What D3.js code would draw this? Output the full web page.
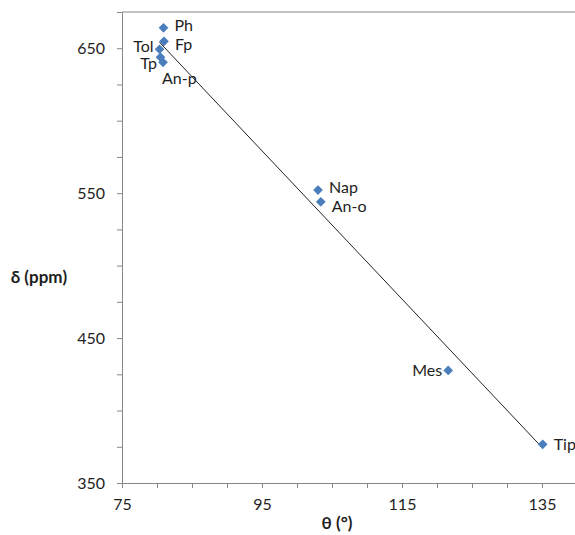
<!DOCTYPE html>
<html>
<head>
<meta charset="utf-8">
<script src="https://cdn.jsdelivr.net/npm/d3@7"></script>
<style>
  body { margin: 0; background: #fff; }
  svg text { font-family: Lato, "Open Sans", sans-serif; fill: #1e1e1e; }
</style>
</head>
<body>
<script>
// data
var labels = ["Ph", "Fp", "Tol", "An-p", "Tp", "Nap", "An-o", "Mes", "Tip"];
var theta = [80.93, 81.0, 80.36, 80.5, 80.86, 103.0, 103.4, 121.6, 135.1];
var delta = [664.1, 654.8, 649.3, 643.8, 640.3, 552.1, 544.0, 427.7, 376.7];
var labelSide = ["rightHigh", "rightLow", "leftHigh", "below", "leftLow", "rightTop", "rightBottom", "left", "right"];
var xTicks = [75, 95, 115, 135];
var yTicks = [350, 450, 550, 650];

var w = 575, h = 535;
// note: "top" is reserved on window, so use plot* names
var plotLeft = 122, plotRight = 577, plotTop = 12, plotBottom = 483;

var svg = d3.select("body").append("svg")
    .attr("width", w)
    .attr("height", h);

var xScale = d3.scaleLinear().domain([75, 140]).range([plotLeft, plotRight]);
var yScale = d3.scaleLinear().domain([350, 675]).range([plotBottom, plotTop]);

var axisColor = "#868686";

// minor ticks
var xMinor = d3.range(75, 141, 5).filter(function(v){ return xTicks.indexOf(v) < 0; });
var yMinor = d3.range(350, 676, 25).filter(function(v){ return yTicks.indexOf(v) < 0; });

svg.append("g")
    .attr("transform", "translate(0," + plotBottom + ")")
    .call(d3.axisBottom(xScale).tickValues(xMinor).tickSize(5).tickFormat(""))
    .call(function(g){ g.select(".domain").remove(); g.selectAll("line").attr("stroke", axisColor); });

svg.append("g")
    .attr("transform", "translate(" + plotLeft + ",0)")
    .call(d3.axisLeft(yScale).tickValues(yMinor).tickSize(5).tickFormat(""))
    .call(function(g){ g.select(".domain").remove(); g.selectAll("line").attr("stroke", axisColor); });

// major axes
var xAxis = d3.axisBottom(xScale).tickValues(xTicks).tickSize(5).tickSizeOuter(0).tickPadding(11);
var yAxis = d3.axisLeft(yScale).tickValues(yTicks).tickSize(5).tickSizeOuter(0).tickPadding(12);

svg.append("g")
    .attr("transform", "translate(0," + plotBottom + ")")
    .call(xAxis)
    .call(function(g){
        g.selectAll("path,line").attr("stroke", axisColor);
        g.selectAll("text").attr("font-size", 16).attr("font-family", "Lato, sans-serif").attr("fill", "#1e1e1e");
    });

svg.append("g")
    .attr("transform", "translate(" + plotLeft + ",0)")
    .call(yAxis)
    .call(function(g){
        g.selectAll("path,line").attr("stroke", axisColor);
        g.selectAll("text").attr("font-size", 16).attr("font-family", "Lato, sans-serif").attr("fill", "#1e1e1e");
    });

// top border of plot area
svg.append("line")
    .attr("x1", plotLeft).attr("x2", w)
    .attr("y1", plotTop).attr("y2", plotTop)
    .attr("stroke", axisColor);

// least squares trend line
var mx = d3.mean(theta), my = d3.mean(delta);
var sxy = d3.sum(theta, function(t, i){ return (t - mx) * (delta[i] - my); });
var sxx = d3.sum(theta, function(t){ return (t - mx) * (t - mx); });
var slope = sxy / sxx, icpt = my - slope * mx;
var xExt = d3.extent(theta);

svg.append("line")
    .attr("x1", xScale(xExt[0])).attr("y1", yScale(icpt + slope * xExt[0]))
    .attr("x2", xScale(xExt[1])).attr("y2", yScale(icpt + slope * xExt[1]))
    .attr("stroke", "#222")
    .attr("stroke-width", 1);

// points
var points = labels.map(function(l, i){
    return { label: l, x: theta[i], y: delta[i], side: labelSide[i] };
});

svg.selectAll("path.pt")
    .data(points)
    .enter()
    .append("path")
    .attr("class", "pt")
    .attr("d", d3.symbol().type(d3.symbolDiamond2).size(60))
    .attr("transform", function(d){ return "translate(" + xScale(d.x) + "," + yScale(d.y) + ")"; })
    .attr("fill", "#4a7ebb");

// label offsets per side
var offsets = {
    right:       { dx: 11, dy: 5.5, anchor: "start" },
    rightHigh:   { dx: 11, dy: 3.5, anchor: "start" },
    rightLow:    { dx: 11, dy: 8.5, anchor: "start" },
    rightTop:    { dx: 11, dy: 2.5, anchor: "start" },
    rightBottom: { dx: 11, dy: 10, anchor: "start" },
    left:        { dx: -6, dy: 5.5, anchor: "end" },
    leftHigh:    { dx: -6, dy: 2.5, anchor: "end" },
    leftLow:     { dx: -6, dy: 6.5, anchor: "end" },
    below:       { dx: 1.5, dy: 27, anchor: "start" }
};

svg.selectAll("text.lbl")
    .data(points)
    .enter()
    .append("text")
    .attr("class", "lbl")
    .attr("font-size", 16)
    .attr("x", function(d){ return xScale(d.x) + offsets[d.side].dx; })
    .attr("y", function(d){ return yScale(d.y) + offsets[d.side].dy; })
    .attr("text-anchor", function(d){ return offsets[d.side].anchor; })
    .text(function(d){ return d.label; });

// axis titles
svg.append("text")
    .attr("x", 337).attr("y", 529)
    .attr("text-anchor", "middle")
    .attr("font-size", 17)
    .attr("font-weight", "bold")
    .text("θ (°)");

svg.append("text")
    .attr("x", 39).attr("y", 283)
    .attr("text-anchor", "middle")
    .attr("font-size", 17)
    .attr("font-weight", "bold")
    .text("δ (ppm)");
</script>
</body>
</html>
